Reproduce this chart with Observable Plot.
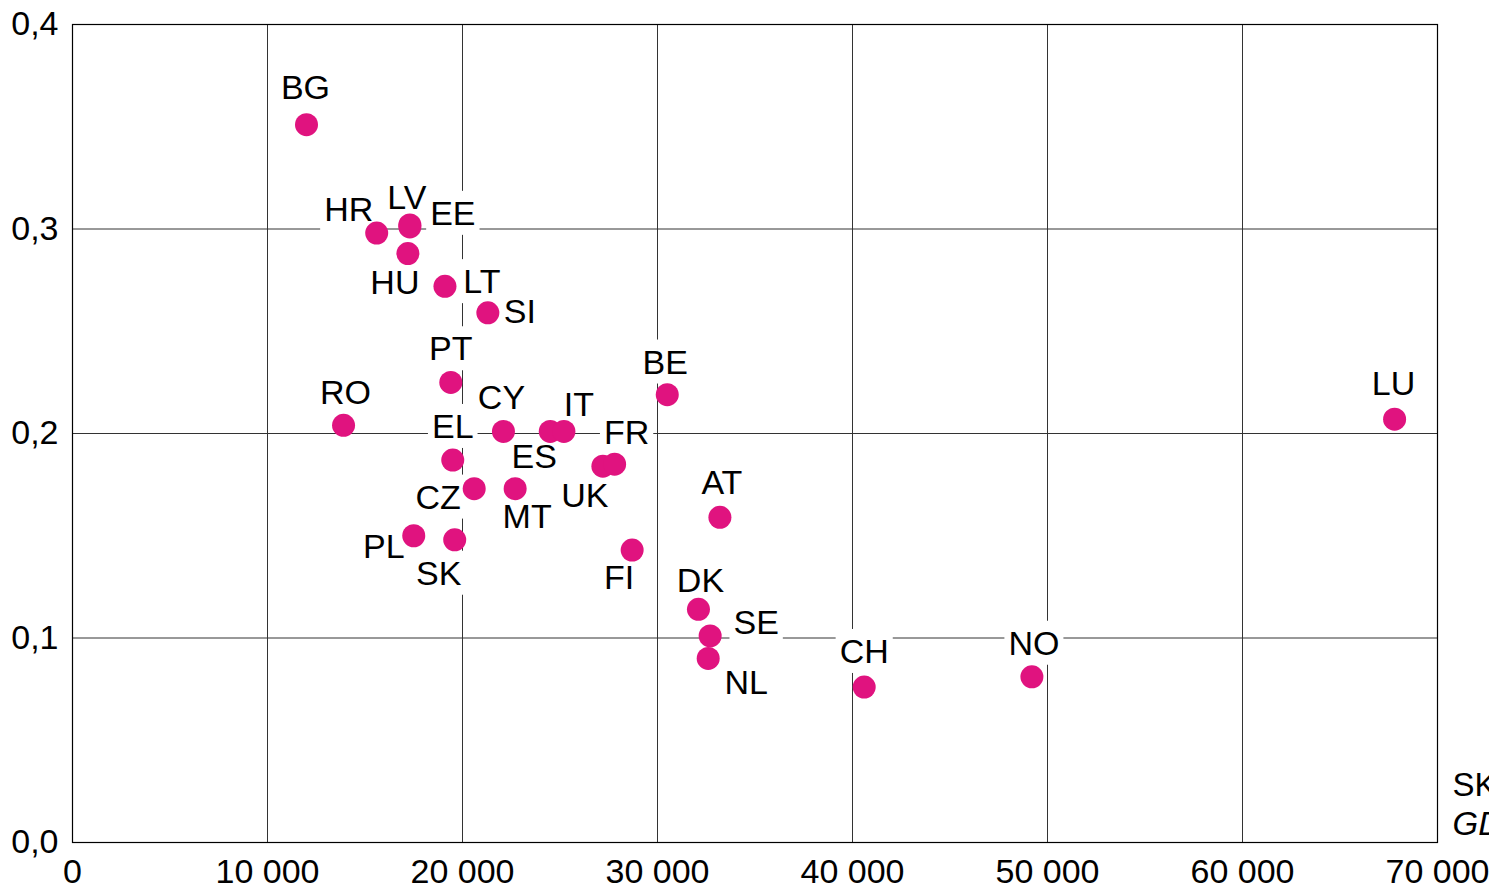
<!DOCTYPE html>
<html><head><meta charset="utf-8">
<script src="https://cdn.jsdelivr.net/npm/d3@7"></script>
<script src="https://cdn.jsdelivr.net/npm/@observablehq/plot@0.6"></script>
<style>body{margin:0;background:#fff;} svg{display:block;}</style>
</head><body><div id="chart"></div>
<script>
// Data
const countries = ["BG","HR","LV","EE","HU","LT","SI","PT","RO","EL","CY","ES","IT","UK","FR","CZ","MT","PL","SK","FI","BE","AT","DK","SE","NL","CH","NO","LU"];
const gdp =       [12000,15600,17300,17300,17200,19100,21300,19400,13900,19500,22100,24500,25200,27200,27800,20600,22700,17500,19600,28700,30500,33200,32100,32700,32600,40600,49200,67800];
const values =    [0.351,0.298,0.302,0.301,0.288,0.272,0.259,0.225,0.204,0.187,0.201,0.201,0.201,0.184,0.185,0.173,0.173,0.150,0.148,0.143,0.219,0.159,0.114,0.101,0.090,0.076,0.081,0.207];
const xTicks = [0,10000,20000,30000,40000,50000,60000,70000];
const yTicks = [0,0.1,0.2,0.3,0.4];
const axisTitleRight = ["SKS","GDP"];

// label placement (pixel offsets from the dot)
const labelOffsets = {
  BG:[-1,-37], HR:[-28,-23], LV:[-3,-27], EE:[43,-13], HU:[-13,30], LT:[37,-4],
  SI:[32,-1], PT:[0,-33], RO:[2,-32], EL:[0,-33], CY:[-2,-33], ES:[-16,26],
  IT:[15,-26], UK:[-18,30], FR:[12,-31], CZ:[-36,9], MT:[12,28], PL:[-30,11],
  SK:[-16,34], FI:[-13,28], BE:[-2,-32], AT:[2,-34], DK:[2,-28], SE:[46,-13],
  NL:[38,25], CH:[0,-35], NO:[2,-33], LU:[-1,-35]
};

const data = countries.map((c, i) => ({country: c, gdp: gdp[i], value: values[i]}));
const locale = d3.formatLocale({decimal: ",", thousands: " ", grouping: [3], currency: ["", ""]});
const fx = locale.format(",d");
const fy = locale.format(".1f");
const dotColor = "#e0137f";
const gridColor = "#333";

const labelMarks = data.map(d => Plot.text([d], {
  x: "gdp", y: "value", text: "country",
  dx: labelOffsets[d.country][0], dy: labelOffsets[d.country][1],
  textAnchor: "middle", lineAnchor: "middle", fontSize: 34, fill: "#000"
}));

const chart = Plot.plot({
  width: 1489, height: 889,
  marginLeft: 72, marginRight: 52, marginTop: 24, marginBottom: 47,
  style: {fontFamily: "'Liberation Sans', Arial, sans-serif", fontSize: "32px", color: "#000", background: "#fff"},
  x: {domain: [0, 70000]},
  y: {domain: [0, 0.4]},
  marks: [
    Plot.gridX(xTicks, {stroke: gridColor, strokeOpacity: 1, strokeWidth: 1}),
    Plot.gridY(yTicks, {stroke: gridColor, strokeOpacity: 1, strokeWidth: 1}),
    Plot.frame({stroke: "#000", strokeWidth: 1.2}),
    Plot.axisX(xTicks, {tickSize: 0, tickPadding: 16, tickFormat: fx, fontSize: 34, label: null}),
    Plot.axisY(yTicks, {tickSize: 0, tickPadding: 14, tickFormat: fy, fontSize: 34, label: null}),
    Plot.dot(data, {x: "gdp", y: "value", r: 11.5, fill: dotColor, stroke: "none"}),
    ...labelMarks,
    Plot.text([axisTitleRight[0]], {frameAnchor: "bottom-right", dx: 15, dy: -57, textAnchor: "start", lineAnchor: "middle", fontSize: 33}),
    Plot.text([axisTitleRight[1]], {frameAnchor: "bottom-right", dx: 15, dy: -18, textAnchor: "start", lineAnchor: "middle", fontSize: 33, fontStyle: "italic"})
  ]
});
document.getElementById("chart").appendChild(chart);

// white boxes behind country labels (knock out grid lines, drawn under the dots)
const countrySet = new Set(countries);
const svgBox = chart.getBoundingClientRect();
const dotGroup = chart.querySelector('g[aria-label="dot"]');
const boxLayer = document.createElementNS("http://www.w3.org/2000/svg", "g");
boxLayer.setAttribute("aria-label", "label-boxes");
dotGroup.parentNode.insertBefore(boxLayer, dotGroup);
Array.from(chart.querySelectorAll("text"))
  .filter(t => countrySet.has(t.textContent.trim()))
  .forEach(t => {
    const b = t.getBoundingClientRect();
    const r = document.createElementNS("http://www.w3.org/2000/svg", "rect");
    const px = 4, py = 3;
    r.setAttribute("x", b.left - svgBox.left - px);
    r.setAttribute("y", b.top - svgBox.top - py);
    r.setAttribute("width", b.width + 2 * px);
    r.setAttribute("height", b.height + 2 * py);
    r.setAttribute("fill", "#fff");
    boxLayer.appendChild(r);
  });
</script>
</body></html>
